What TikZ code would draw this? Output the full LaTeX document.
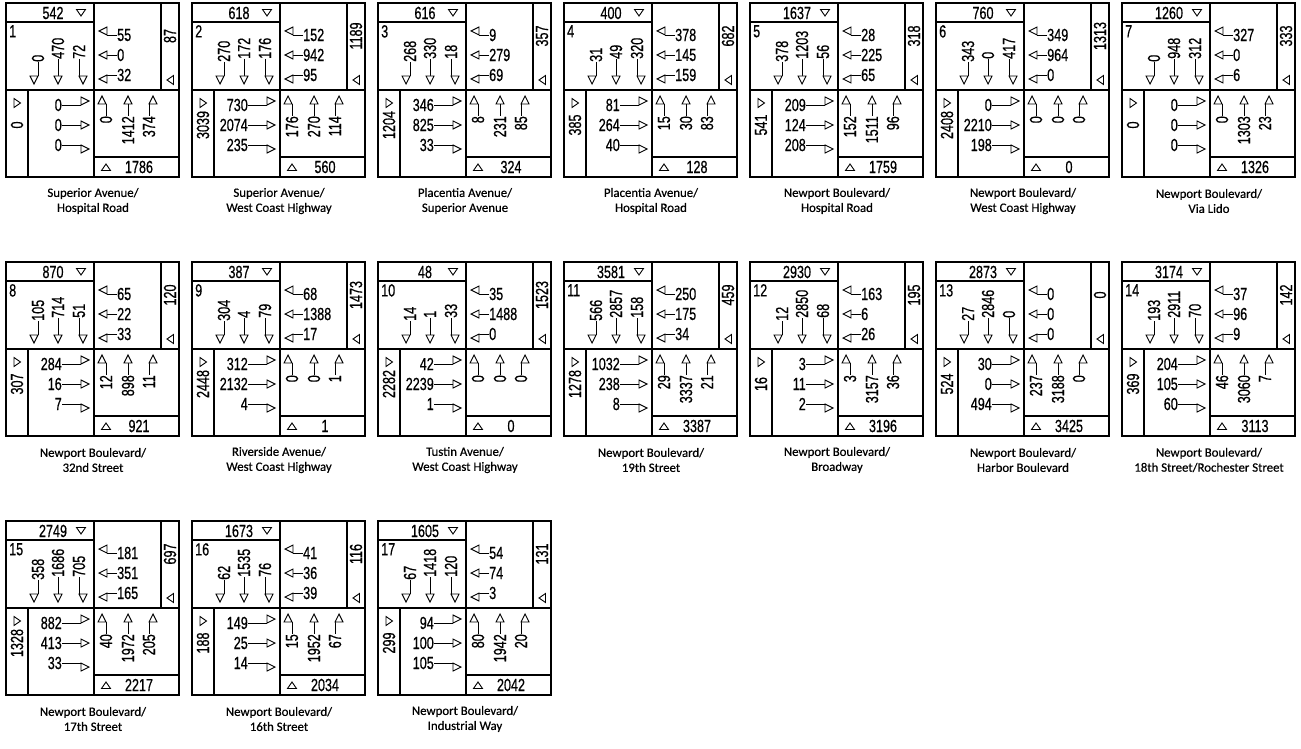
\documentclass[tikz,border=0pt]{standalone}
\usepackage{fontspec}
\setmainfont[FakeBold=0.5]{Carlito}
\newfontfamily\numf[FakeStretch=0.72,FakeBold=0.6]{Liberation Sans}
\tikzset{
  frm/.style={line width=1.4pt},
  ln/.style={line width=0.9pt},
  hd/.style={line width=0.9pt, fill=white, line join=miter},
  num/.style={font=\numf\fontsize{17.5}{17.5}\selectfont, inner sep=0pt},
  lbl/.style={font=\fontsize{12.8}{15}\selectfont, align=center, inner sep=0pt},
}
\newcommand\ixFrame[5]{%
  \draw[frm] (0,0) rectangle (173,174);
  \draw[frm] (88,0) -- (88,174) (0,87) -- (173,87) (0,19) -- (88,19)
    (155,0) -- (155,87) (22,87) -- (22,174) (88,154) -- (173,154);
  \node[num, anchor=north west] (b#1id) at (3,22) {#1};
  \node[num] (b#1top) at (47,10) {#2};
  \draw[hd] (70.5,6.5) -- (79.5,6.5) -- (75,13) -- cycle;
  \node[num, rotate=90] (b#1r) at (164,33) {#3};
  \draw[hd] (167.5,72.5) -- (167.5,81.5) -- (161,77) -- cycle;
  \draw[hd] (8,95.5) -- (8,104.5) -- (14.5,100) -- cycle;
  \node[num, rotate=90] (b#1l) at (11,122) {#4};
  \draw[hd] (95.5,167.5) -- (104.5,167.5) -- (100,161) -- cycle;
  \node[num] (b#1b) at (133,164) {#5};
}
\newcommand\ixSB[4]{%
  \node[num, rotate=90, anchor=west] (b#1sa) at (32,59) {#2};
  \draw[ln] (b#1sa.west) -- (32,73);
  \draw[hd] (32,73) -- (24,73) -- (28,81) -- cycle;
  \node[num, rotate=90, anchor=west] (b#1sb) at (52,56) {#3};
  \draw[ln] (b#1sb.west) -- (52,73);
  \draw[hd] (48,73) -- (56,73) -- (52,81) -- cycle;
  \node[num, rotate=90, anchor=west] (b#1sc) at (73,56) {#4};
  \draw[ln] (b#1sc.west) -- (73,73);
  \draw[hd] (73,73) -- (81,73) -- (77,81) -- cycle;
}
\newcommand\ixWB[4]{%
  \node[num, anchor=west] (b#1wa) at (111,32) {#2};
  \draw[ln] (b#1wa.west) -- (101,32);
  \draw[hd] (101,32) -- (101,24) -- (93,28) -- cycle;
  \node[num, anchor=west] (b#1wb) at (111,52) {#3};
  \draw[ln] (b#1wb.west) -- (101,52);
  \draw[hd] (101,48) -- (101,56) -- (93,52) -- cycle;
  \node[num, anchor=west] (b#1wc) at (111,72) {#4};
  \draw[ln] (b#1wc.west) -- (101,72);
  \draw[hd] (101,72) -- (101,80) -- (93,76) -- cycle;
}
\newcommand\ixEB[4]{%
  \node[num, anchor=east] (b#1ea) at (56,102) {#2};
  \draw[ln] (b#1ea.east) -- (75,102);
  \draw[hd] (75,102) -- (75,94) -- (83,98) -- cycle;
  \node[num, anchor=east] (b#1eb) at (56,122) {#3};
  \draw[ln] (b#1eb.east) -- (75,122);
  \draw[hd] (75,118) -- (75,126) -- (83,122) -- cycle;
  \node[num, anchor=east] (b#1ec) at (56,142) {#4};
  \draw[ln] (b#1ec.east) -- (75,142);
  \draw[hd] (75,142) -- (75,150) -- (83,146) -- cycle;
}
\newcommand\ixNB[4]{%
  \node[num, rotate=90, anchor=east] (b#1na) at (100,113) {#2};
  \draw[ln] (b#1na.east) -- (100,101);
  \draw[hd] (100,101) -- (92,101) -- (96,93) -- cycle;
  \node[num, rotate=90, anchor=east] (b#1nb) at (122,113) {#3};
  \draw[ln] (b#1nb.east) -- (122,101);
  \draw[hd] (118,101) -- (126,101) -- (122,93) -- cycle;
  \node[num, rotate=90, anchor=east] (b#1nc) at (143,113) {#4};
  \draw[ln] (b#1nc.east) -- (143,101);
  \draw[hd] (143,101) -- (151,101) -- (147,93) -- cycle;
}
\newcommand\ixLab[2]{\node[lbl] (b#1lab) at (87,198) {#2};}
\newcommand\ixAll[8]{%
  \begin{scope}[shift={(#1,#2)}]
  #3 #4 #5 #6 #7 #8
  \end{scope}}
\begin{document}
\begin{tikzpicture}[x=1pt,y=-1pt]
\useasboundingbox (0,0) rectangle (1301,749);
\fill[white] (0,0) rectangle (1301,749);
% Row 1
\ixAll{6}{3}{\ixFrame{1}{542}{87}{0}{1786}}{\ixSB{1}{0}{470}{72}}{\ixWB{1}{55}{0}{32}}{\ixEB{1}{0}{0}{0}}{\ixNB{1}{0}{1412}{374}}{\ixLab{1}{Superior Avenue/\\Hospital Road}}
\ixAll{192}{3}{\ixFrame{2}{618}{1189}{3039}{560}}{\ixSB{2}{270}{172}{176}}{\ixWB{2}{152}{942}{95}}{\ixEB{2}{730}{2074}{235}}{\ixNB{2}{176}{270}{114}}{\ixLab{2}{Superior Avenue/\\West Coast Highway}}
\ixAll{378}{3}{\ixFrame{3}{616}{357}{1204}{324}}{\ixSB{3}{268}{330}{18}}{\ixWB{3}{9}{279}{69}}{\ixEB{3}{346}{825}{33}}{\ixNB{3}{8}{231}{85}}{\ixLab{3}{Placentia Avenue/\\Superior Avenue}}
\ixAll{564}{3}{\ixFrame{4}{400}{682}{385}{128}}{\ixSB{4}{31}{49}{320}}{\ixWB{4}{378}{145}{159}}{\ixEB{4}{81}{264}{40}}{\ixNB{4}{15}{30}{83}}{\ixLab{4}{Placentia Avenue/\\Hospital Road}}
\ixAll{750}{3}{\ixFrame{5}{1637}{318}{541}{1759}}{\ixSB{5}{378}{1203}{56}}{\ixWB{5}{28}{225}{65}}{\ixEB{5}{209}{124}{208}}{\ixNB{5}{152}{1511}{96}}{\ixLab{5}{Newport Boulevard/\\Hospital Road}}
\ixAll{936}{3}{\ixFrame{6}{760}{1313}{2408}{0}}{\ixSB{6}{343}{0}{417}}{\ixWB{6}{349}{964}{0}}{\ixEB{6}{0}{2210}{198}}{\ixNB{6}{0}{0}{0}}{\ixLab{6}{Newport Boulevard/\\West Coast Highway}}
\ixAll{1122}{3}{\ixFrame{7}{1260}{333}{0}{1326}}{\ixSB{7}{0}{948}{312}}{\ixWB{7}{327}{0}{6}}{\ixEB{7}{0}{0}{0}}{\ixNB{7}{0}{1303}{23}}{\ixLab{7}{Newport Boulevard/\\Via Lido}}
% Row 2
\ixAll{6}{262}{\ixFrame{8}{870}{120}{307}{921}}{\ixSB{8}{105}{714}{51}}{\ixWB{8}{65}{22}{33}}{\ixEB{8}{284}{16}{7}}{\ixNB{8}{12}{898}{11}}{\ixLab{8}{Newport Boulevard/\\32nd Street}}
\ixAll{192}{262}{\ixFrame{9}{387}{1473}{2448}{1}}{\ixSB{9}{304}{4}{79}}{\ixWB{9}{68}{1388}{17}}{\ixEB{9}{312}{2132}{4}}{\ixNB{9}{0}{0}{1}}{\ixLab{9}{Riverside Avenue/\\West Coast Highway}}
\ixAll{378}{262}{\ixFrame{10}{48}{1523}{2282}{0}}{\ixSB{10}{14}{1}{33}}{\ixWB{10}{35}{1488}{0}}{\ixEB{10}{42}{2239}{1}}{\ixNB{10}{0}{0}{0}}{\ixLab{10}{Tustin Avenue/\\West Coast Highway}}
\ixAll{564}{262}{\ixFrame{11}{3581}{459}{1278}{3387}}{\ixSB{11}{566}{2857}{158}}{\ixWB{11}{250}{175}{34}}{\ixEB{11}{1032}{238}{8}}{\ixNB{11}{29}{3337}{21}}{\ixLab{11}{Newport Boulevard/\\19th Street}}
\ixAll{750}{262}{\ixFrame{12}{2930}{195}{16}{3196}}{\ixSB{12}{12}{2850}{68}}{\ixWB{12}{163}{6}{26}}{\ixEB{12}{3}{11}{2}}{\ixNB{12}{3}{3157}{36}}{\ixLab{12}{Newport Boulevard/\\Broadway}}
\ixAll{936}{262}{\ixFrame{13}{2873}{0}{524}{3425}}{\ixSB{13}{27}{2846}{0}}{\ixWB{13}{0}{0}{0}}{\ixEB{13}{30}{0}{494}}{\ixNB{13}{237}{3188}{0}}{\ixLab{13}{Newport Boulevard/\\Harbor Boulevard}}
\ixAll{1122}{262}{\ixFrame{14}{3174}{142}{369}{3113}}{\ixSB{14}{193}{2911}{70}}{\ixWB{14}{37}{96}{9}}{\ixEB{14}{204}{105}{60}}{\ixNB{14}{46}{3060}{7}}{\ixLab{14}{Newport Boulevard/\\18th Street/Rochester Street}}
% Row 3
\ixAll{6}{521}{\ixFrame{15}{2749}{697}{1328}{2217}}{\ixSB{15}{358}{1686}{705}}{\ixWB{15}{181}{351}{165}}{\ixEB{15}{882}{413}{33}}{\ixNB{15}{40}{1972}{205}}{\ixLab{15}{Newport Boulevard/\\17th Street}}
\ixAll{192}{521}{\ixFrame{16}{1673}{116}{188}{2034}}{\ixSB{16}{62}{1535}{76}}{\ixWB{16}{41}{36}{39}}{\ixEB{16}{149}{25}{14}}{\ixNB{16}{15}{1952}{67}}{\ixLab{16}{Newport Boulevard/\\16th Street}}
\ixAll{378}{521}{\ixFrame{17}{1605}{131}{299}{2042}}{\ixSB{17}{67}{1418}{120}}{\ixWB{17}{54}{74}{3}}{\ixEB{17}{94}{100}{105}}{\ixNB{17}{80}{1942}{20}}{\ixLab{17}{Newport Boulevard/\\Industrial Way}}
\end{tikzpicture}
\end{document}
